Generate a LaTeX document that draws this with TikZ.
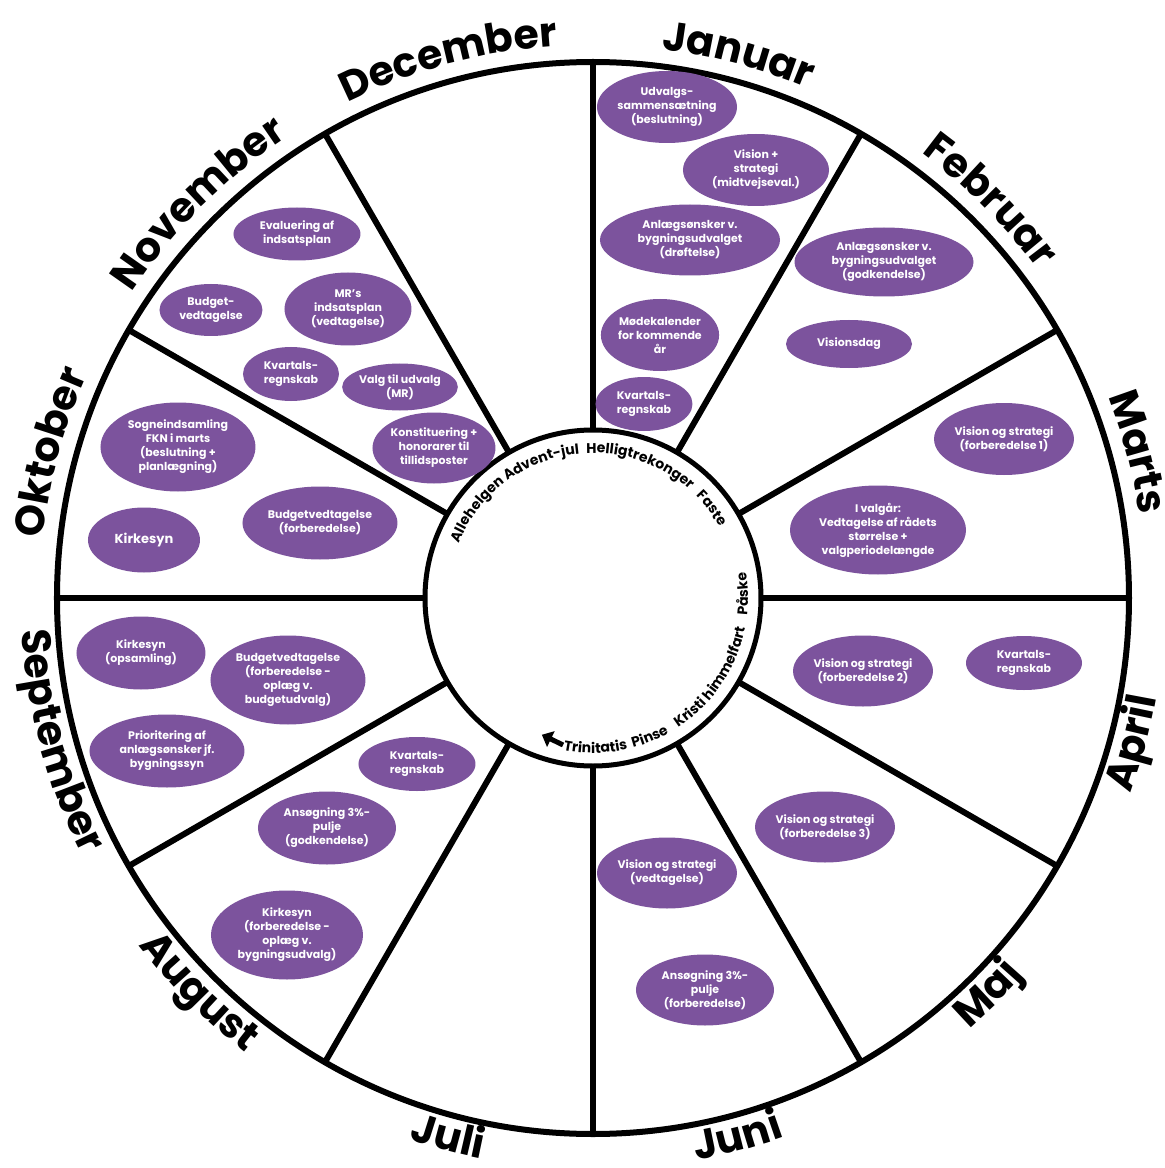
\documentclass[tikz,border=0pt]{standalone}
\usepackage{fontspec}
\setmainfont{Poppins}
\usetikzlibrary{shapes.geometric,decorations.text,arrows.meta}
\definecolor{evp}{RGB}{124,83,157}
\newcommand\monthfont{\bfseries\fontsize{41}{44}\selectfont}
\newcommand\holfont{\bfseries\fontsize{14}{16}\selectfont}
\newcommand\mtop[2]{\path[decorate,decoration={text along path,text align=center,text={|\monthfont|#2}}] ({#1+30}:553) arc[start angle={#1+30}, end angle={#1-30}, radius=553];}
\newcommand\mbot[2]{\path[decorate,decoration={text along path,text align=center,text={|\monthfont|#2}}] ({#1-30}:572) arc[start angle={#1-30}, end angle={#1+30}, radius=572];}
\newcommand\htop[2]{\path[decorate,decoration={text along path,text align=center,text={|\holfont|#2}}] ({#1+45}:145) arc[start angle={#1+45}, end angle={#1-45}, radius=145];}
\newcommand\hbot[2]{\path[decorate,decoration={text along path,text align=center,text={|\holfont|#2}}] ({#1-45}:155) arc[start angle={#1-45}, end angle={#1+45}, radius=155];}
\newcommand\ev[6]{\node[ev, minimum width=#4pt, minimum height=#5pt] (#1) at (#2,#3) {#6};}
\tikzset{
  ev/.style={ellipse, fill=evp, text=white, align=center, inner sep=0pt, outer sep=0pt,
    font=\bfseries\fontsize{11}{14}\selectfont},
  ring/.style={line width=6pt, draw=black}
}
\begin{document}
\begin{tikzpicture}[x=1pt,y=1pt]
\useasboundingbox[fill=white] (-593,-570) rectangle (572,598);
% wheel
\draw[ring, fill=white] (0,0) circle[radius=536];
\foreach \a in {0,30,...,330} {\draw[ring] (\a:165) -- (\a:536);}
\draw[line width=5pt, fill=white] (0,0) circle[radius=168];
% month labels
\mtop{75}{Januar}
\mtop{45}{Februar}
\mtop{15}{Marts}
\mtop{105}{December}
\mtop{135}{November}
\mtop{165}{Oktober}
\mbot{-15}{April}
\mbot{-45}{Maj}
\mbot{-75}{Juni}
\mbot{-105}{Juli}
\mbot{-135}{August}
\mbot{-165}{September}
% church year
\htop{142.7}{Allehelgen}
\htop{110.8}{Advent-jul}
\htop{70.5}{Helligtrekonger}
\htop{37}{Faste}
\hbot{1.5}{Påske}
\hbot{-34}{Kristi himmelfart}
\hbot{-67.8}{Pinse}
\hbot{-89}{Trinitatis}
\coordinate (arrT) at (-101.5:150);
\coordinate (arrH) at (-110.5:146);
\draw[line width=5pt, -{Triangle[length=10pt,width=17pt]}] (arrT) -- (arrH);
% events
\ev{e1}{74}{491}{137}{72}{Udvalgs-\\sammensætning\\(beslutning)}
\ev{e2}{163}{428}{146}{72}{Vision +\\strategi\\(midtvejseval.)}
\ev{e3}{97}{358}{180}{71}{Anlægsønsker v.\\bygningsudvalget\\(drøftelse)}
\ev{e4}{67}{263}{118}{72}{Mødekalender\\for kommende\\år}
\ev{e5}{51}{194}{97}{54}{Kvartals-\\regnskab}
\ev{e6}{291}{336}{179}{69}{Anlægsønsker v.\\bygningsudvalget\\(godkendelse)}
\ev{e7}{256}{254}{126}{48}{Visionsdag}
\ev{e8}{411}{159}{138}{72}{Vision og strategi\\(forberedelse 1)}
\ev{e9}{285}{68}{176}{89}{I valgår:\\Vedtagelse af rådets\\størrelse +\\valgperiodelængde}
\ev{e10}{270}{-73}{138}{71}{Vision og strategi\\(forberedelse 2)}
\ev{e11}{431}{-65}{116}{54}{Kvartals-\\regnskab}
\ev{e12}{232}{-229}{138}{71}{Vision og strategi\\(forberedelse 3)}
\ev{e13}{74}{-275}{139}{71}{Vision og strategi\\(vedtagelse)}
\ev{e14}{112}{-392}{138}{71}{Ansøgning 3\%-\\pulje\\(forberedelse)}
\ev{e15}{-176}{-166}{117}{54}{Kvartals-\\regnskab}
\ev{e16}{-266}{-230}{138}{73}{Ansøgning 3\%-\\pulje\\(godkendelse)}
\ev{e17}{-306}{-337}{152}{89}{Kirkesyn\\(forberedelse -\\oplæg v.\\bygningsudvalg)}
\ev{e18}{-452}{-55}{129}{73}{Kirkesyn\\(opsamling)}
\ev{e19}{-305}{-82}{155}{89}{Budgetvedtagelse\\(forberedelse -\\oplæg v.\\budgetudvalg)}
\ev{e20}{-426}{-153}{155}{73}{Prioritering af\\anlægsønsker jf.\\bygningssyn}
\ev{e21}{-415}{151}{155}{89}{Sogneindsamling\\FKN i marts\\(beslutning +\\planlægning)}
\ev{e22}{-449}{58}{112}{65}{\fontsize{13}{15}\selectfont Kirkesyn}
\ev{e23}{-273}{75}{155}{73}{Budgetvedtagelse\\(forberedelse)}
\ev{e24}{-296}{364}{127}{53}{Evaluering af\\indsatsplan}
\ev{e25}{-382}{288}{103}{52}{Budget-\\vedtagelse}
\ev{e26}{-245}{289}{127}{73}{MR’s\\indsatsplan\\(vedtagelse)}
\ev{e27}{-302}{224}{96}{54}{Kvartals-\\regnskab}
\ev{e28}{-193}{211}{112}{47}{Valg til udvalg\\(MR)}
\ev{e29}{-159}{150}{123}{71}{Konstituering +\\honorarer til\\tillidsposter}
\end{tikzpicture}
\end{document}
